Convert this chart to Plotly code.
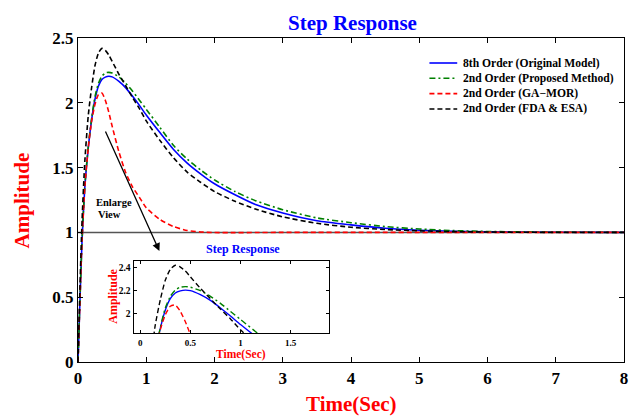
import plotly.graph_objects as go

# ---- data ----
t = [0, 0.03, 0.06, 0.1, 0.15, 0.2, 0.25, 0.3, 0.35, 0.4, 0.45, 0.5, 0.6, 0.7, 0.8,
     0.9, 1.0, 1.2, 1.4, 1.6, 1.8, 2.0, 2.3, 2.6, 3.0, 3.5, 4.0, 4.5, 5.0, 5.5, 6.0, 7.0, 8.0]

y_8th = [0, 0.5, 0.95, 1.35, 1.65, 1.87, 2.03, 2.13, 2.18, 2.198, 2.205, 2.2, 2.165, 2.115,
         2.05, 1.98, 1.906, 1.77, 1.64, 1.535, 1.45, 1.375, 1.29, 1.215, 1.15, 1.09, 1.058,
         1.032, 1.017, 1.009, 1.005, 1.001, 1.0]
y_prop = [0, 0.5, 0.95, 1.36, 1.66, 1.88, 2.05, 2.15, 2.205, 2.23, 2.235, 2.23, 2.2, 2.15,
          2.09, 2.02, 1.95, 1.81, 1.67, 1.565, 1.48, 1.405, 1.315, 1.245, 1.175, 1.112, 1.075,
          1.045, 1.026, 1.014, 1.007, 1.002, 1.0]
y_ga = [0, 0.5, 0.95, 1.35, 1.65, 1.86, 1.99, 2.065, 2.075, 2.02, 1.93, 1.82, 1.62, 1.46,
        1.35, 1.27, 1.19, 1.1, 1.045, 1.015, 1.003, 0.999, 0.998, 0.999, 1.0, 1.0, 1.0,
        1.0, 1.0, 1.0, 1.0, 1.0, 1.0]
y_fda = [0, 0.6, 1.1, 1.55, 1.9, 2.12, 2.29, 2.385, 2.42, 2.405, 2.37, 2.32, 2.22, 2.13,
         2.04, 1.955, 1.86, 1.71, 1.575, 1.465, 1.385, 1.315, 1.24, 1.18, 1.12, 1.07, 1.04,
         1.022, 1.012, 1.006, 1.003, 1.0, 1.0]

names = ["8th Order (Original Model)", "2nd Order (Proposed Method)",
         "2nd Order (GA\u2212MOR)", "2nd Order (FDA & ESA)"]
series = [y_8th, y_prop, y_ga, y_fda]
colors = ["#0000ff", "#008000", "#ff0000", "#000000"]
dashes = ["solid", "6px,3px,2px,3px", "5px,3px", "5px,3px"]

x_ticks = [0, 1, 2, 3, 4, 5, 6, 7, 8]
y_ticks = [0, 0.5, 1, 1.5, 2, 2.5]
y_tick_labels = ["0", "0.5", "1", "1.5", "2", "2.5"]
inset_x_ticks = [0, 0.5, 1, 1.5]
inset_y_ticks = [2, 2.2, 2.4]

FONT = "Liberation Serif"

fig = go.Figure()

for name, ys, c, d in zip(names, series, colors, dashes):
    fig.add_trace(go.Scatter(x=t, y=ys, mode="lines", name=name, showlegend=False,
                             line=dict(color=c, dash=d, width=1.6, shape="spline", smoothing=0.6),
                             xaxis="x", yaxis="y"))
for name, ys, c, d in zip(names, series, colors, dashes):
    fig.add_trace(go.Scatter(x=t, y=ys, mode="lines", name=name, showlegend=False,
                             line=dict(color=c, dash=d, width=1.4, shape="spline", smoothing=0.6),
                             xaxis="x2", yaxis="y2"))

W, H = 639, 419
L, R, T, B = 78, 11, 38, 57
pw, ph = W - L - R, H - T - B

def px(x):
    return (x - L) / pw

def py(y):
    return (H - B - y) / ph

fig.add_shape(type="line", xref="x", yref="y", x0=0, x1=8, y0=1, y1=1,
              line=dict(color="#555555", width=1.5), layer="below")

axis_common = dict(showgrid=False, zeroline=False, showline=True, linecolor="black",
                   linewidth=1.2, mirror="ticks", ticks="inside", ticklen=5,
                   tickcolor="black")

fig.update_layout(
    width=W, height=H,
    margin=dict(l=L, r=R, t=T, b=B),
    paper_bgcolor="white", plot_bgcolor="white",
    font=dict(family=FONT, color="black"),
    xaxis=dict(range=[0, 8], tickvals=x_ticks, domain=[0, 1],
               tickfont=dict(family=FONT, size=17, color="black", weight="bold"),
               **axis_common),
    yaxis=dict(range=[0, 2.5], tickvals=y_ticks, ticktext=y_tick_labels, domain=[0, 1],
               tickfont=dict(family=FONT, size=17, color="black", weight="bold"),
               **axis_common),
    xaxis2=dict(range=[-0.066, 1.884], tickvals=inset_x_ticks, anchor="y2",
                domain=[px(134), px(331)], ticklabelstandoff=1,
                tickfont=dict(family=FONT, size=9, color="black", weight="bold"),
                **{**axis_common, "ticklen": 3}),
    yaxis2=dict(range=[1.83, 2.46], tickvals=inset_y_ticks, anchor="x2",
                domain=[py(333.3), py(260.7)],
                tickfont=dict(family=FONT, size=9.5, color="black", weight="bold"),
                **{**axis_common, "ticklen": 3}),
    showlegend=False,
)

ann = []
ann.append(dict(text="<b>Step Response</b>", x=px(355), y=py(23), xref="paper", yref="paper",
                xanchor="center", yanchor="middle",
                showarrow=False, font=dict(family=FONT, size=21, color="#0000ff")))
ann.append(dict(text="<b>Time(Sec)</b>", x=px(354), y=py(404), xref="paper", yref="paper",
                xanchor="center", yanchor="middle",
                showarrow=False, font=dict(family=FONT, size=21, color="#ff0000")))
ann.append(dict(text="<b>Amplitude</b>", x=px(22), y=py(200), xref="paper", yref="paper",
                xanchor="center", yanchor="middle",
                showarrow=False, textangle=-90, font=dict(family=FONT, size=21, color="#ff0000")))
ann.append(dict(text="<b>Step Response</b>", x=px(244), y=py(249), xref="paper", yref="paper",
                xanchor="center", yanchor="middle",
                showarrow=False, font=dict(family=FONT, size=12, color="#0000ff")))
ann.append(dict(text="<b>Time(Sec)</b>", x=px(242), y=py(354), xref="paper", yref="paper",
                xanchor="center", yanchor="middle",
                showarrow=False, font=dict(family=FONT, size=11.5, color="#ff0000")))
ann.append(dict(text="<b>Amplitude</b>", x=px(113), y=py(296), xref="paper", yref="paper",
                xanchor="center", yanchor="middle",
                showarrow=False, textangle=-90, font=dict(family=FONT, size=12, color="#ff0000")))
ann.append(dict(text="<b>Enlarge</b>", x=px(94), y=py(202.5), xref="paper", yref="paper",
                xanchor="left", yanchor="middle", showarrow=False,
                font=dict(family=FONT, size=10.5, color="black")))
ann.append(dict(text="<b>View</b>", x=px(96), y=py(214), xref="paper", yref="paper",
                xanchor="left", yanchor="middle", showarrow=False,
                font=dict(family=FONT, size=10.5, color="black")))
ann.append(dict(text="", x=px(160), y=py(251), ax=px(105), ay=py(130),
                xref="x domain", yref="y domain", axref="x domain", ayref="y domain",
                showarrow=True, arrowhead=2, arrowsize=1.2, arrowwidth=1.3, arrowcolor="black"))

# legend (drawn as text + line samples)
legend_rows = [63, 78.3, 93.6, 109]
shapes = []
for name, c, d, ry in zip(names, colors, dashes, legend_rows):
    shapes.append(dict(type="line", xref="paper", yref="paper",
                       x0=px(432), x1=px(460), y0=py(ry), y1=py(ry),
                       line=dict(color=c, dash=d, width=1.6)))
    ann.append(dict(text="<b>" + name.replace("&", "&amp;") + "</b>", x=px(464), y=py(ry),
                    xref="paper", yref="paper", xanchor="left", yanchor="middle",
                    showarrow=False, font=dict(family=FONT, size=11.6, color="black")))
for s in shapes:
    fig.add_shape(**s)

fig.update_layout(annotations=ann)

fig.write_html("out.html")
